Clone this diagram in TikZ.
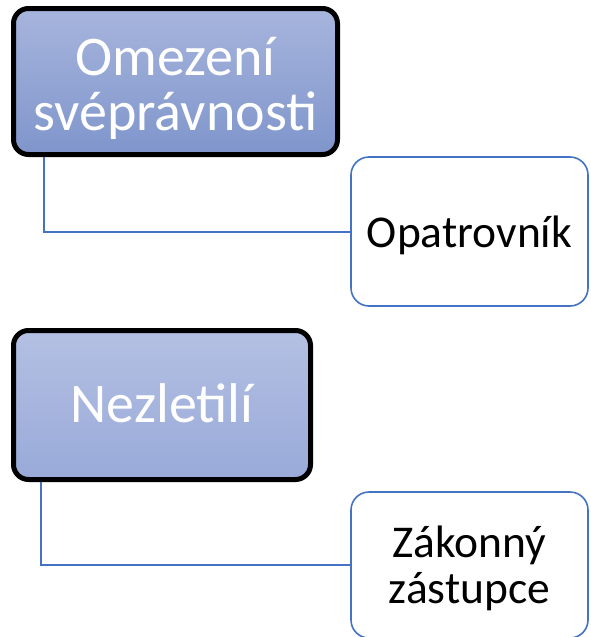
\documentclass[tikz,border=0pt]{standalone}
\usepackage{fontspec}
\setmainfont{Carlito}
\definecolor{accent}{HTML}{4472C4}
\definecolor{ptopA}{HTML}{A7B5DD}
\definecolor{pbotA}{HTML}{7F95CB}
\definecolor{ptopB}{HTML}{B4C0E3}
\definecolor{pbotB}{HTML}{99AAD9}
\begin{document}
\begin{tikzpicture}[x=1pt,y=1pt,
  parent/.style={draw=black, line width=5pt, rounded corners=15pt, text=white,
    align=center, inner sep=0pt, font=\fontsize{56}{55}\selectfont},
  child/.style={draw=accent, line width=1.6pt, rounded corners=18pt, fill=white,
    text=black, align=center, inner sep=0pt, minimum width=237pt,
    font=\fontsize{45.5}{46}\selectfont},
  conn/.style={draw=accent, line width=2pt}]
\useasboundingbox (0,0) rectangle (590,-637);
\node[parent, top color=ptopA, bottom color=pbotA,
  minimum width=324pt, minimum height=146pt, text height=108pt, text depth=11pt] (p1) at (175.5,-81.5)
  {Omezení\\svéprávnosti};
\node[child, minimum height=149pt, text height=40pt, text depth=9pt] (c1) at (469.5,-231.5) {Opatrovník};
\node[parent, top color=ptopB, bottom color=pbotB,
  minimum width=297pt, minimum height=149pt, text height=38pt, text depth=4pt] (p2) at (162,-405)
  {Nezletilí};
\node[child, minimum height=146pt, text height=82pt, text depth=6pt] (c2) at (469.5,-565) {Zákonný\\zástupce};
\draw[conn] ([xshift=32.5pt]p1.south west) |- (c1.west);
\draw[conn] ([xshift=29.5pt]p2.south west) |- (c2.west);
\end{tikzpicture}
\end{document}
